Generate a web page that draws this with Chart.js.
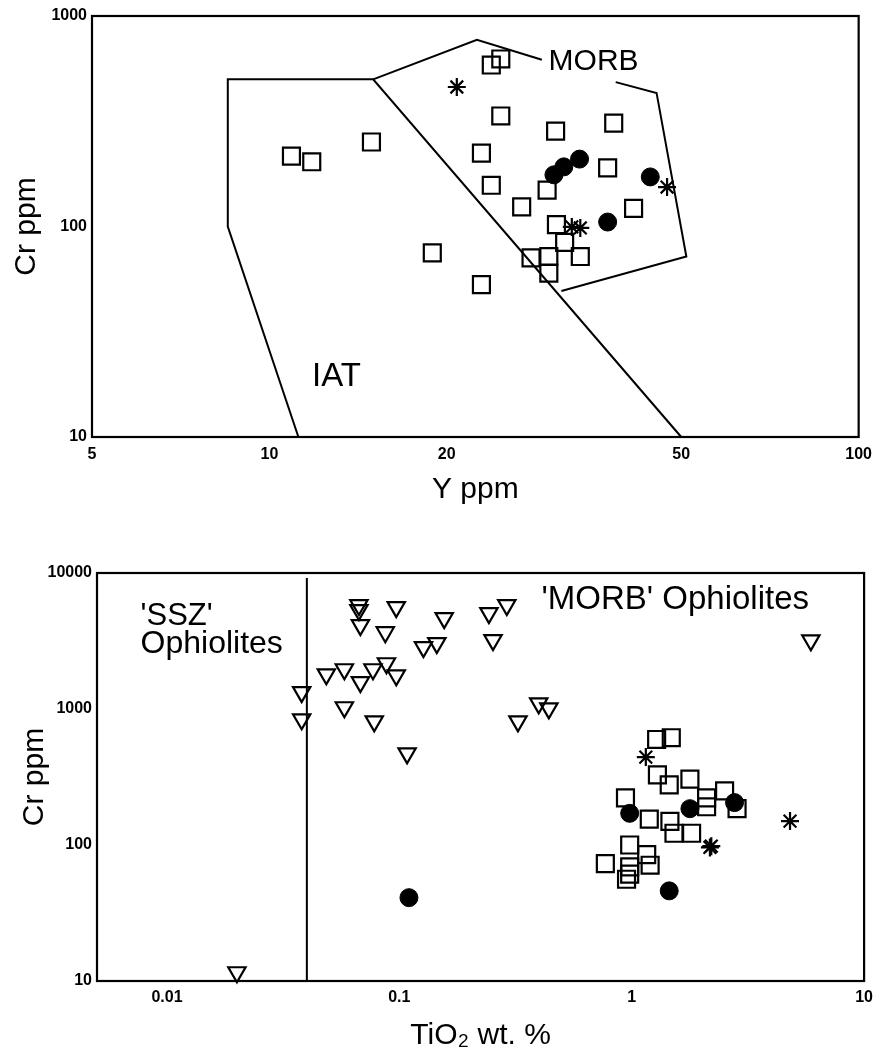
<!DOCTYPE html>
<html>
<head>
<meta charset="utf-8">
<style>
  html, body { margin: 0; padding: 0; background: #fff; }
  #wrap { position: relative; width: 880px; height: 1051px; }
  .box { position: absolute; left: 0; width: 880px; }
  #top { top: 0; height: 520px; }
  #bottom { top: 520px; height: 531px; }
</style>
<script src="https://cdn.jsdelivr.net/npm/chart.js@4.4.1/dist/chart.umd.min.js"></script>
</head>
<body>
<div id="wrap">
  <div class="box" id="top"><canvas id="crY" width="880" height="520"></canvas></div>
  <div class="box" id="bottom"><canvas id="crTi" width="880" height="531"></canvas></div>
</div>
<script>
// ---- upper diagram: Cr vs Y ----
const yTicks = [5, 10, 20, 50, 100];
const crTicksTop = [10, 100, 1000];

const sqY  = [10.9, 11.8, 14.9, 18.9, 22.9, 23.8, 24.7, 24.7, 22.9, 23.8, 26.8, 30.6, 29.6, 38.4, 37.5, 41.5, 30.7, 31.7, 27.8, 29.8, 29.8, 33.7];
const sqCrTop = [216, 203, 252, 75, 53, 585, 625, 335, 223, 157, 124, 284, 149, 310, 190, 122, 102, 84, 71, 72, 60, 72];
const dotY = [30.4, 31.6, 33.6, 44.3, 37.5];
const dotCrTop = [176, 192, 209, 172, 105];
const starY = [20.8, 32.6, 33.7, 47.3];
const starCrTop = [460, 99.5, 98.4, 154];

// field boundaries
const iatY  = [11.2, 8.5, 8.5, 15, 50];
const iatCr = [10, 100, 500, 500, 10];
const morbY1  = [15, 22.5, 29];
const morbCr1 = [500, 770, 620];
const morbY2  = [38.7, 45.4, 51, 31.3];
const morbCr2 = [485, 431, 72, 49.4];

// ---- lower diagram: Cr vs TiO2 ----
const tiTicks = [0.01, 0.1, 1, 10];
const crTicksBottom = [10, 100, 1000, 10000];

const triTi = [0.067, 0.067, 0.068, 0.097, 0.087, 0.156, 0.243, 0.290, 0.253, 0.127, 0.145, 0.038, 0.038, 0.0485, 0.058, 0.068, 0.077, 0.088, 0.097, 0.058, 0.078, 0.108, 0.324, 0.398, 0.44, 5.9, 0.02];
const triCr = [5810, 5340, 4140, 5610, 3670, 4660, 5070, 5810, 3210, 2850, 3050, 1330, 840, 1800, 1960, 1575, 1960, 2170, 1770, 1030, 811, 472, 811, 1100, 1010, 3200, 11.6];
const sqTi = [1.28, 1.48, 1.29, 1.45, 1.78, 0.94, 1.19, 1.46, 1.52, 1.81, 2.1, 2.1, 2.51, 2.84, 0.98, 1.16, 1.2, 0.77, 0.98, 0.95, 0.98];
const sqCrBottom = [597, 615, 328, 277, 305, 222, 155, 149, 122, 122, 222, 191, 250, 185, 100, 85, 71, 73, 69, 56, 61];
const dotTi = [0.11, 0.98, 1.78, 2.77, 1.45];
const dotCrBottom = [41, 171, 185, 205, 46];
const starTi = [1.15, 2.17, 2.2, 4.8];
const starCrBottom = [443, 96, 98, 150];

const divideTi = [0.04, 0.04];
const divideCr = [10, 9200];

const FONT = '"Liberation Sans", Arial, sans-serif';

function pts(xs, ys) {
    return xs.map((v, i) => ({ x: v, y: ys[i] }));
}

function boundary(xs, ys) {
    return { type: 'scatter', data: pts(xs, ys), showLine: true, borderColor: '#000', borderWidth: 2, pointRadius: 0, clip: false };
}

function squares(xs, ys) {
    return { data: pts(xs, ys), pointStyle: 'rect', pointRadius: 12, borderColor: '#000', borderWidth: 2.2, backgroundColor: 'rgba(0,0,0,0)', clip: false };
}
function dots(xs, ys) {
    return { data: pts(xs, ys), pointStyle: 'circle', pointRadius: 9, borderColor: '#000', borderWidth: 1, backgroundColor: '#000', clip: false };
}
function stars(xs, ys) {
    return { data: pts(xs, ys), pointStyle: 'star', pointRadius: 9, borderColor: '#000', borderWidth: 2.2, clip: false };
}
function triangles(xs, ys) {
    return { data: pts(xs, ys), pointStyle: 'triangle', pointRotation: 180, pointRadius: 10, borderColor: '#000', borderWidth: 2.2, backgroundColor: 'rgba(0,0,0,0)', clip: false };
}

function logAxis(min, max, ticks, fitSize, isX, title, titlePad, tickPad) {
    return {
        type: 'logarithmic',
        min: min,
        max: max,
        afterBuildTicks: axis => { axis.ticks = ticks.map(v => ({ value: v })); },
        afterFit: axis => { if (isX) axis.height = fitSize; else axis.width = fitSize; },
        grid: { display: false, drawTicks: false },
        border: { display: false },
        ticks: {
            autoSkip: false,
            maxRotation: 0,
            padding: tickPad,
            color: '#000',
            font: { family: FONT, size: 16, weight: 'bold' },
            callback: v => String(v)
        },
        title: {
            display: true,
            text: title,
            color: '#000',
            font: { family: FONT, size: 30, lineHeight: 1 },
            padding: titlePad
        }
    };
}

// frame round the plot area
const framePlugin = {
    id: 'frame',
    beforeDatasetsDraw(chart) {
        const a = chart.chartArea;
        const ctx = chart.ctx;
        ctx.save();
        ctx.strokeStyle = '#000';
        ctx.lineWidth = 2.2;
        ctx.strokeRect(a.left, a.top, a.right - a.left, a.bottom - a.top);
        ctx.restore();
    }
};

// field names written inside the plot
const notesPlugin = {
    id: 'notes',
    afterDatasetsDraw(chart, args, opts) {
        const ctx = chart.ctx;
        const xs = chart.scales.x, ys = chart.scales.y;
        ctx.save();
        ctx.fillStyle = '#000';
        ctx.textBaseline = 'middle';
        (opts.items || []).forEach(n => {
            ctx.font = (n.size || 31) + 'px ' + FONT;
            ctx.textAlign = n.align || 'center';
            ctx.fillText(n.text, xs.getPixelForValue(n.x), ys.getPixelForValue(n.y));
        });
        ctx.restore();
    }
};

new Chart(document.getElementById('crY'), {
    type: 'scatter',
    data: {
        datasets: [
            boundary(iatY, iatCr),
            boundary(morbY1, morbCr1),
            boundary(morbY2, morbCr2),
            squares(sqY, sqCrTop),
            dots(dotY, dotCrTop),
            stars(starY, starCrTop)
        ]
    },
    options: {
        responsive: false,
        animation: false,
        events: [],
        layout: { padding: { left: 0, right: 19, top: 16, bottom: 0 } },
        plugins: {
            legend: { display: false },
            tooltip: { enabled: false },
            notes: { items: [
                { text: 'MORB', x: 35.5, y: 604, size: 30 },
                { text: 'IAT', x: 13.0, y: 19.3, size: 33 }
            ] }
        },
        scales: {
            x: logAxis(5, 100, yTicks, 83, true, 'Y ppm', { top: 0, bottom: 15 }, 8),
            y: logAxis(10, 1000, crTicksTop, 92, false, 'Cr ppm', { top: 12, bottom: 0 }, 5)
        }
    },
    plugins: [framePlugin, notesPlugin]
});

new Chart(document.getElementById('crTi'), {
    type: 'scatter',
    data: {
        datasets: [
            boundary(divideTi, divideCr),
            triangles(triTi, triCr),
            squares(sqTi, sqCrBottom),
            dots(dotTi, dotCrBottom),
            stars(starTi, starCrBottom)
        ]
    },
    options: {
        responsive: false,
        animation: false,
        events: [],
        layout: { padding: { left: 0, right: 15, top: 53, bottom: 0 } },
        plugins: {
            legend: { display: false },
            tooltip: { enabled: false },
            notes: { items: [
                { text: "'SSZ'", x: 0.0077, y: 4830, align: 'left', size: 31 },
                { text: 'Ophiolites', x: 0.0077, y: 3000, align: 'left', size: 32 },
                { text: "'MORB' Ophiolites", x: 1.54, y: 6300, size: 33 }
            ] }
        },
        scales: {
            x: logAxis(0.005, 10, tiTicks, 70, true, 'TiO\u2082 wt. %', { top: 0, bottom: 0 }, 7),
            y: logAxis(10, 10000, crTicksBottom, 97, false, 'Cr ppm', { top: 20, bottom: 0 }, 5)
        }
    },
    plugins: [framePlugin, notesPlugin]
});
</script>
</body>
</html>
